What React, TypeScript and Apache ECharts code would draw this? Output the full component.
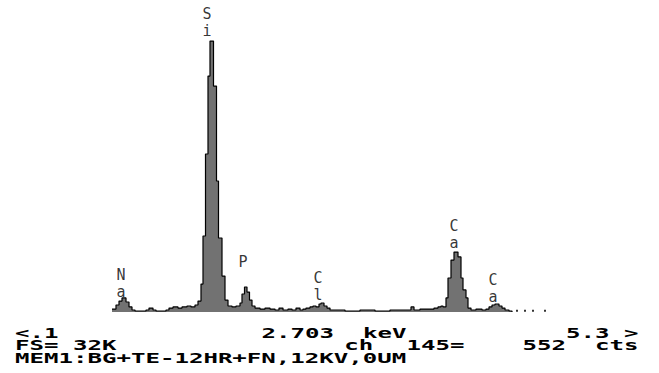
import React, { useEffect, useRef } from 'react';
import * as echarts from 'echarts';

// Spectrum channels: energy (keV) where each step starts, counts held until next step
const energies = [
  0.948, 0.980, 1.004, 1.028, 1.060, 1.084, 1.108, 1.132, 1.220, 1.244, 1.276, 1.300,
  1.380, 1.404, 1.436, 1.476, 1.508, 1.548, 1.580, 1.612, 1.636, 1.660, 1.676, 1.696,
  1.716, 1.732, 1.760, 1.784, 1.800, 1.828, 1.852, 1.876, 1.908, 1.940, 1.972, 1.988,
  2.008, 2.028, 2.048, 2.068, 2.092, 2.132, 2.172, 2.212, 2.252, 2.284, 2.316, 2.356,
  2.388, 2.420, 2.452, 2.476, 2.500, 2.532, 2.556, 2.580, 2.604, 2.620, 2.644, 2.668,
  2.692, 2.812, 2.932, 3.052, 3.172, 3.292, 3.340, 3.364, 3.412, 3.476, 3.524, 3.556,
  3.580, 3.596, 3.620, 3.636, 3.660, 3.684, 3.716, 3.740, 3.756, 3.780, 3.796, 3.820,
  3.860, 3.908, 3.940, 3.964, 3.988, 4.012, 4.044, 4.068, 4.092, 4.124, 4.148,
];
const counts = [
  330, 780, 1220, 1560, 1110, 560, 220, 110, 220, 440, 220, 110,
  220, 440, 560, 440, 560, 670, 560, 780, 1220, 3110, 8450, 17570,
  26240, 30130, 25130, 14570, 8230, 4000, 1330, 670, 560, 670, 1000, 2000,
  2780, 2220, 1330, 670, 440, 330, 440, 330, 220, 440, 220, 330,
  220, 440, 220, 330, 440, 560, 670, 560, 890, 1000, 670, 440,
  220, 110, 220, 110, 220, 220, 560, 220, 330, 330, 440, 560,
  670, 560, 1560, 3780, 5780, 6670, 6120, 3780, 2450, 1560, 440, 220,
  330, 220, 330, 560, 780, 890, 670, 440, 220, 110, 0,
];
// sparse dots after the spectrum end
const tailEnergies = [4.188, 4.252, 4.316, 4.412];
const tailCounts = [150, 150, 150, 150];

// peak identification labels
const peakLabels = ['Na', 'Si', 'P', 'Cl', 'Ca', 'Ca'];
const labelEnergies = [1.02, 1.708, 1.996, 2.596, 3.684, 3.996];
const labelCounts = [3225, 32250, 5615, 2836, 8618, 2669];

// footer text chunks (row, column on the character grid)
const footerTexts = ['<.1', '2.703', 'keV', '5.3', '>', 'FS=', '32K', 'ch', '145=', '552', 'cts', 'MEM1:BG+TE-12HR+FN,12KV,0UM'];
const footerCols = [0, 17, 24, 38, 42, 0, 4, 22.7, 27, 35, 40, 0];
const footerRows = [0, 0, 0, 0, 0, 1, 1, 1, 1, 1, 1, 2];

const X_MIN = 0.1;
const X_MAX = 5.3;
const Y_MAX = 34700;

export default function App() {
  const ref = useRef<HTMLDivElement>(null);
  useEffect(() => {
    if (!ref.current) return;
    const chart = echarts.init(ref.current, undefined, { renderer: 'svg' });
    const cellW = 14.5;
    const x0 = 15;
    const rowY = [333, 345, 358];
    const fontSize = 14;
    const advance = fontSize * 0.602;
    const graphic = footerTexts.map((t, i) => ({
      type: 'text',
      x: x0 + footerCols[i] * cellW,
      y: rowY[footerRows[i]],
      scaleX: cellW / advance,
      style: {
        text: t,
        x: 0,
        y: 0,
        fill: '#000',
        fontSize,
        fontWeight: 'bold',
        fontFamily: '"DejaVu Sans Mono", monospace',
        verticalAlign: 'middle',
        align: 'left',
      },
    }));
    chart.setOption({
      animation: false,
      backgroundColor: '#fff',
      grid: { left: 6, right: 3, top: 0, bottom: 61 },
      xAxis: { type: 'value', min: X_MIN, max: X_MAX, show: false },
      yAxis: { type: 'value', min: 0, max: Y_MAX, show: false },
      series: [
        {
          type: 'line',
          step: 'end',
          symbol: 'none',
          data: energies.map((e, i) => [e, counts[i]]),
          lineStyle: { color: '#000', width: 1.2 },
          areaStyle: { color: '#727272', opacity: 1 },
          silent: true,
        },
        {
          type: 'scatter',
          symbol: 'rect',
          symbolSize: 2,
          itemStyle: { color: '#000' },
          data: tailEnergies.map((e, i) => [e, tailCounts[i]]),
          silent: true,
        },
        {
          type: 'scatter',
          symbolSize: 0,
          clip: false,
          data: labelEnergies.map((e, i) => [e, labelCounts[i]]),
          label: {
            show: true,
            position: 'inside',
            formatter: (p: any) => peakLabels[p.dataIndex].split('').join('\n'),
            color: '#000',
            fontSize: 15,
            lineHeight: 17,
            fontFamily: '"DejaVu Sans Mono", monospace',
          },
          silent: true,
        },
      ],
      graphic,
    });
    return () => chart.dispose();
  }, []);
  return <div ref={ref} style={{ position: 'fixed', left: 0, top: 0, width: 659, height: 373 }} />;
}
